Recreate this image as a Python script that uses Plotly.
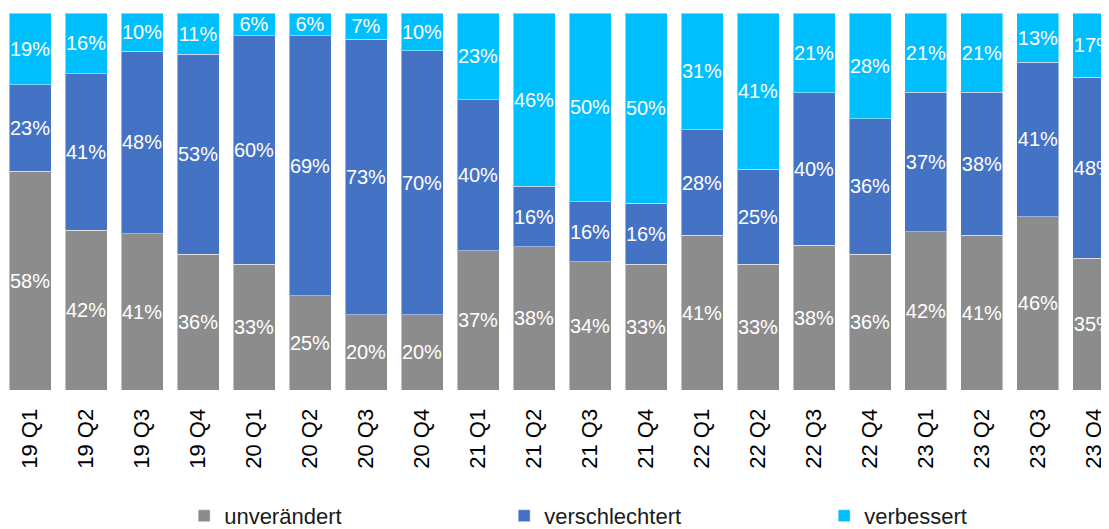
import plotly.graph_objects as go

quarters = ["19 Q1", "19 Q2", "19 Q3", "19 Q4", "20 Q1", "20 Q2", "20 Q3", "20 Q4",
            "21 Q1", "21 Q2", "21 Q3", "21 Q4", "22 Q1", "22 Q2", "22 Q3", "22 Q4",
            "23 Q1", "23 Q2", "23 Q3", "23 Q4"]
unveraendert = [58, 42, 41, 36, 33, 25, 20, 20, 37, 38, 34, 33, 41, 33, 38, 36, 42, 41, 46, 35]
verschlechtert = [23, 41, 48, 53, 60, 69, 73, 70, 40, 16, 16, 16, 28, 25, 40, 36, 37, 38, 41, 48]
verbessert = [19, 16, 10, 11, 6, 6, 7, 10, 23, 46, 50, 50, 31, 41, 21, 28, 21, 21, 13, 17]

series = [
    ("unverändert", unveraendert, "#8C8C8C"),
    ("verschlechtert", verschlechtert, "#4472C4"),
    ("verbessert", verbessert, "#00BFFF"),
]

fig = go.Figure()
for name, vals, color in series:
    fig.add_trace(go.Bar(
        x=quarters,
        y=vals,
        name=name,
        marker=dict(color=color, line=dict(color="rgba(255,255,255,0.45)", width=1)),
        text=[f"{v}%" for v in vals],
        texttemplate="%{text}",
        textposition="inside",
        insidetextanchor="middle",
        textangle=0,
        constraintext="none",
        textfont=dict(color="white", size=20, family="Liberation Sans, Arial, sans-serif"),
        hoverinfo="skip",
    ))

# page body has an 8px margin, so the figure is sized to fill the rest of the window
fig.update_layout(
    barmode="stack",
    barnorm="percent",
    bargap=0.25,
    width=1101,
    height=521,
    margin=dict(l=0, r=0, t=5, b=139, autoexpand=False),
    paper_bgcolor="white",
    plot_bgcolor="white",
    font=dict(family="Liberation Sans, Arial, sans-serif", color="#000000"),
    uniformtext=dict(minsize=20, mode="show"),
    xaxis=dict(
        range=[-0.393, 19.268],
        automargin=False,
        tickangle=-90,
        tickfont=dict(size=22, color="#000000"),
        showgrid=False,
        showline=False,
        ticks="outside",
        ticklen=9,
        tickcolor="rgba(0,0,0,0)",
    ),
    yaxis=dict(range=[0, 100], visible=False, showgrid=False, automargin=False),
    legend=dict(
        orientation="h",
        x=0.16,
        xanchor="left",
        y=-0.334,
        yanchor="middle",
        entrywidth=275,
        font=dict(size=22, color="#1a1a1a"),
        traceorder="normal",
    ),
)

fig.write_html("out.html")
